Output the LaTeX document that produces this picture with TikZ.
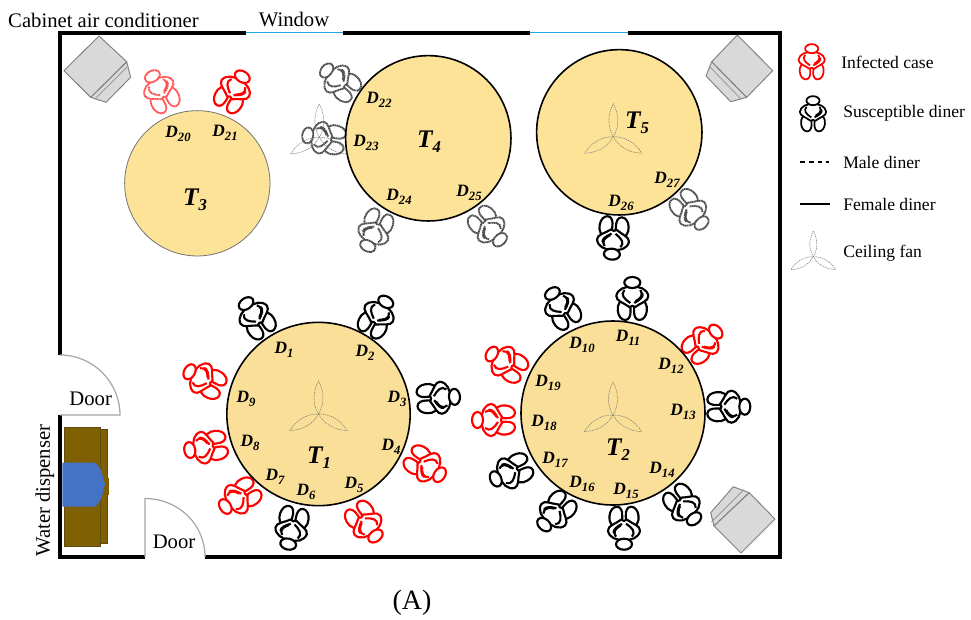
\documentclass[tikz,border=0pt]{standalone}
\usepackage{fontspec}
\setmainfont{Liberation Serif}
\definecolor{tablefill}{HTML}{FCE398}
\definecolor{tabledark}{HTML}{F9DF97}
\definecolor{brownbox}{HTML}{7F6000}
\definecolor{brownedge}{HTML}{5F4A10}
\definecolor{bluetank}{HTML}{4472C4}
\definecolor{acgray}{HTML}{D9D9D9}
\definecolor{acedge}{HTML}{7F7F7F}
\definecolor{winblue}{HTML}{1FA9E6}
\tikzset{
 wall/.style={line width=3pt,line cap=butt},
 windowline/.style={winblue,line width=1.1pt},
 doorline/.style={draw=black!35,line width=.9pt},
 tablebox/.style={circle,draw=black,line width=1.2pt,fill=tablefill,minimum size=#1,inner sep=0pt},
 tablelight/.style={circle,draw=black!55,line width=.6pt,fill=tablefill,minimum size=#1,inner sep=0pt},
 acbox/.style={draw=acedge,fill=acgray,line width=.7pt,line join=round},
 acinner/.style={draw=black!40,line width=.6pt},
 fanline/.style={draw=black!55,line width=.35pt,dash pattern=on 1pt off .6pt},
 dinerred/.style={draw=red,line width=1.6pt},
 dinerblack/.style={draw=black,line width=1.6pt},
 dinerreddash/.style={draw=red!70,line width=1.4pt,dash pattern=on .9pt off .35pt},
 dinerblackdash/.style={draw=black!70,line width=1.4pt,dash pattern=on 1pt off .35pt},
 dlabel/.style={inner sep=0pt,font=\fontsize{13}{15}\selectfont\bfseries\itshape},
 tlabel/.style={inner sep=0pt,font=\fontsize{19}{21}\selectfont\bfseries\itshape},
 plain/.style={inner sep=0pt,font=\fontsize{15.5}{18}\selectfont},
 legend/.style={inner sep=0pt,anchor=west,font=\fontsize{13.2}{16}\selectfont},
}
\newcommand\dinerfig[6][1]{%
 \pgfmathsetmacro\dang{atan2(#3-#5,#4-#2)-90}%
 \begin{scope}[shift={(#2,#3)},rotate=\dang,scale=#1]
  \foreach \sx in {1,-1}{
   \draw[#6,fill=white,xscale=\sx] (-5,-1) .. controls (-12,-2) and (-15.5,5) .. (-14.5,11)
     .. controls (-14,16) and (-11,20) .. (-7,20) .. controls (-3,20) and (-1.5,15) .. (-1.8,11)
     .. controls (-2,7) and (-1,2) .. (-5,-1) -- cycle;
  }
  \draw[#6,fill=white] (0,-13) .. controls (-7,-14) and (-15,-11) .. (-16,-4)
     .. controls (-16.5,1) and (-8,3) .. (-3,7) .. controls (-1.5,5.5) and (1.5,5.5) .. (3,7)
     .. controls (8,3) and (16.5,1) .. (16,-4) .. controls (15,-11) and (7,-14) .. (0,-13) -- cycle;
  \foreach \sx in {1,-1}{
   \draw[#6,xscale=\sx] (-8,-10) .. controls (-12,-5) and (-8,-1) .. (-2,3);
  }
  \draw[#6,line width=2.2pt] (10,-6.5) .. controls (10.5,-3) and (7,-0.5) .. (3.5,1.5);
  \draw[#6,fill=white] (0,-17.5) ellipse [x radius=8,y radius=5.5];
 \end{scope}}
\newcommand\fanfig[3]{%
 \begin{scope}[shift={(#1,#2)},scale=#3]
  \foreach \a in {0,120,240}{
   \draw[fanline,rotate=\a] (0,0) .. controls (-6,-10) and (-6,-22) .. (0,-33)
     .. controls (6,-22) and (6,-10) .. (0,0) -- cycle;
  }
 \end{scope}}
\newcommand\dlab[4]{\node[dlabel] (d#4) at (#1,#2) {D\raisebox{-3pt}{\fontsize{9.5}{10}\selectfont #3}};}
\newcommand\tlab[4]{\node[tlabel] (#4) at (#1,#2) {T\raisebox{-4pt}{\fontsize{12.5}{13}\selectfont #3}};}
\begin{document}
\begin{tikzpicture}[x=0.75pt,y=-0.75pt]
\useasboundingbox (0,0) rectangle (971,619);
\fill[white] (0,0) rectangle (971,619);

% walls and windows
\coordinate (w1) at (60,32.5); \coordinate (w2) at (246,32.5); \coordinate (w3) at (343,32.5);
\coordinate (w4) at (530,32.5); \coordinate (w5) at (628,32.5); \coordinate (w6) at (780,32.5);
\coordinate (w7) at (780,557); \coordinate (w8) at (205,557); \coordinate (w9) at (145,557);
\coordinate (w10) at (60,557); \coordinate (w11) at (60,415); \coordinate (w12) at (60,355);
\draw[wall,line cap=square] (w12) -- (w1) -- (w2);
\draw[wall] (w3) -- (w4);
\draw[wall,line cap=square] (w5) -- (w6) -- (w7) -- (w8);
\draw[wall,line cap=square] (w9) -- (w10) -- (w11);
\draw[windowline] (w2) -- (w3);
\draw[windowline] (w4) -- (w5);

% doors
\draw[doorline] (w12) .. controls (93,355) and (120,382) .. (120,415) coordinate (da) -- (w11);
\draw[doorline] (w9) -- (145,498.5) coordinate (db) .. controls (178,498.5) and (205,524) .. (w8);

% water dispenser
\fill[brownbox,draw=brownedge,line width=.3pt] (100,429.3) rectangle (107.3,543.3);
\fill[brownbox,draw=brownedge,line width=.3pt] (64,426.7) rectangle (100,545.7);
\fill[brownbox] (105,477.7) rectangle (108.7,495);
\fill[bluetank] (62.3,462.7) -- (95,462.7) .. controls (100,466) and (103.5,475) .. (103.5,481)
  .. controls (105.5,482) and (105.5,487) .. (103.5,488) .. controls (103.5,494) and (100,503) .. (95,506.7) -- (62.3,506.7) -- cycle;

% air conditioners
\draw[acbox] (126.7,61.7) -- (130.7,77.3) -- (106,102.3) -- (90.7,97.3) -- cycle;
\draw[acbox] (99,36) -- (126.7,61.7) -- (90.7,97.3) -- (64,70.7) -- cycle;
\draw[acinner] (127,67) -- (95,99);
\draw[acbox] (711.7,61.7) -- (706,76) -- (730.7,101.7) -- (746.7,97.3) -- cycle;
\draw[acbox] (737.3,35) -- (772.7,70.7) -- (746.7,97.3) -- (711.7,61.7) -- cycle;
\draw[acinner] (710,67) -- (741,99);
\draw[acbox] (749.3,492.7) -- (733.3,486.7) -- (710.7,512.7) -- (714,526) -- cycle;
\draw[acbox] (749.3,492.7) -- (775,519) -- (741,553) -- (714,526) -- cycle;
\draw[acinner] (744,489.5) -- (711.5,522);

% diners, table T1
\dinerfig{256}{318}{245}{302}{dinerblack}
\dinerfig{377}{317}{388}{298}{dinerblack}
\dinerfig{437}{398}{452}{397}{dinerblack}
\dinerfig{425}{465}{440}{475}{dinerred}
\dinerfig{365}{522}{377}{538}{dinerred}
\dinerfig{292}{527}{288}{545}{dinerblack}
\dinerfig{240}{497}{223}{508}{dinerred}
\dinerfig{207}{447}{190}{450}{dinerred}
\dinerfig{205}{380}{190}{372}{dinerred}
% table T2
\dinerfig{561.7}{308.3}{552.7}{294}{dinerblack}
\dinerfig{632.3}{300}{632.3}{282.7}{dinerblack}
\dinerfig{702.7}{343.3}{716.7}{330.7}{dinerred}
\dinerfig{727.3}{406.7}{745}{406.7}{dinerblack}
\dinerfig{683.3}{505}{695}{520}{dinerblack}
\dinerfig{624}{526.7}{624}{546.7}{dinerblack}
\dinerfig{556}{511.7}{541.7}{527.3}{dinerblack}
\dinerfig{511.7}{471.7}{493.3}{480}{dinerblack}
\dinerfig{495}{420}{477.3}{420}{dinerred}
\dinerfig{506.7}{363.3}{490.7}{353.3}{dinerred}
% table T3
\dinerfig{160.7}{91.7}{151.7}{75}{dinerreddash}
\dinerfig{233.3}{91.7}{243.3}{75}{dinerred}
% table T4
\dinerfig{340}{81.7}{326}{70}{dinerblackdash}
\dinerfig{325}{138.3}{305}{135}{dinerblackdash}
\dinerfig{375}{230}{366.7}{248.3}{dinerblackdash}
\dinerfig{488.3}{226.7}{501.7}{241.7}{dinerblackdash}
% table T5
\dinerfig{613.3}{236.7}{611.7}{256.7}{dinerblack}
\dinerfig{690}{210}{703.3}{225}{dinerblackdash}

% tables
\node[tablebox=137.5pt,fill=tabledark] (t1c) at (318.5,414) {};
\node[tablebox=138pt,fill=tabledark] (t2c) at (613,413) {};
\node[tablelight=109pt] (t3c) at (197.3,183.3) {};
\node[tablebox=124pt] (t4c) at (428.3,138.3) {};
\node[tablebox=124pt] (t5c) at (619.3,132.3) {};

% ceiling fans
\fanfig{318.5}{414}{1}
\fanfig{613}{415}{1}
\fanfig{613.3}{136.7}{1}
\fanfig{319.3}{137.3}{1}
\fanfig{813.3}{256.7}{.78}

% seat labels
\dlab{284}{350}{1}{1}\dlab{365}{353}{2}{2}\dlab{397}{399}{3}{3}\dlab{391}{447}{4}{4}
\dlab{354}{485}{5}{5}\dlab{306}{492}{6}{6}\dlab{275}{477}{7}{7}\dlab{250}{443}{8}{8}\dlab{246}{399}{9}{9}
\dlab{582}{345}{10}{10}\dlab{628}{338}{11}{11}\dlab{671}{366}{12}{12}\dlab{683}{412}{13}{13}
\dlab{662}{470}{14}{14}\dlab{626}{491}{15}{15}\dlab{582}{484}{16}{16}\dlab{555}{460}{17}{17}
\dlab{544}{423}{18}{18}\dlab{548}{383}{19}{19}
\dlab{178}{134}{20}{20}\dlab{225}{133}{21}{21}
\dlab{379}{100}{22}{22}\dlab{366}{143}{23}{23}\dlab{399}{197}{24}{24}\dlab{469}{193}{25}{25}
\dlab{621}{203}{26}{26}\dlab{667}{180}{27}{27}
\tlab{319}{458}{1}{t1}\tlab{618}{450}{2}{t2}\tlab{195}{200}{3}{t3}\tlab{429}{142}{4}{t4}\tlab{637}{123}{5}{t5}

% room labels
\node[plain] (ac) at (103.5,20) {Cabinet air conditioner};
\node[plain] (win) at (294,19) {Window};
\node[plain] (door1) at (90.7,399) {Door};
\node[plain] (door2) at (174,541.7) {Door};
\node[plain,rotate=90] (water) at (45,490.7) {Water dispenser};
\node[inner sep=0pt,font=\fontsize{21}{24}\selectfont] (panel) at (412,603) {(A)};

% legend
\dinerfig[.82]{811.7}{63}{811.7}{49}{draw=red,line width=1.3pt}
\dinerfig[.82]{813}{115}{813}{101}{draw=black,line width=1.3pt}
\coordinate (m1) at (800,162); \coordinate (m2) at (829,162);
\coordinate (f1) at (800,204); \coordinate (f2) at (830,204);
\draw[black,line width=.9pt,dash pattern=on 3.6pt off 3pt] (m1) -- (m2);
\draw[black,line width=.9pt] (f1) -- (f2);
\node[legend] (l1) at (841,62) {Infected case};
\node[legend] (l2) at (843,113) {Susceptible diner};
\node[legend] (l3) at (843,162) {Male diner};
\node[legend] (l4) at (843,204) {Female diner};
\node[legend] (l5) at (843,253) {Ceiling fan};
\end{tikzpicture}
\end{document}
